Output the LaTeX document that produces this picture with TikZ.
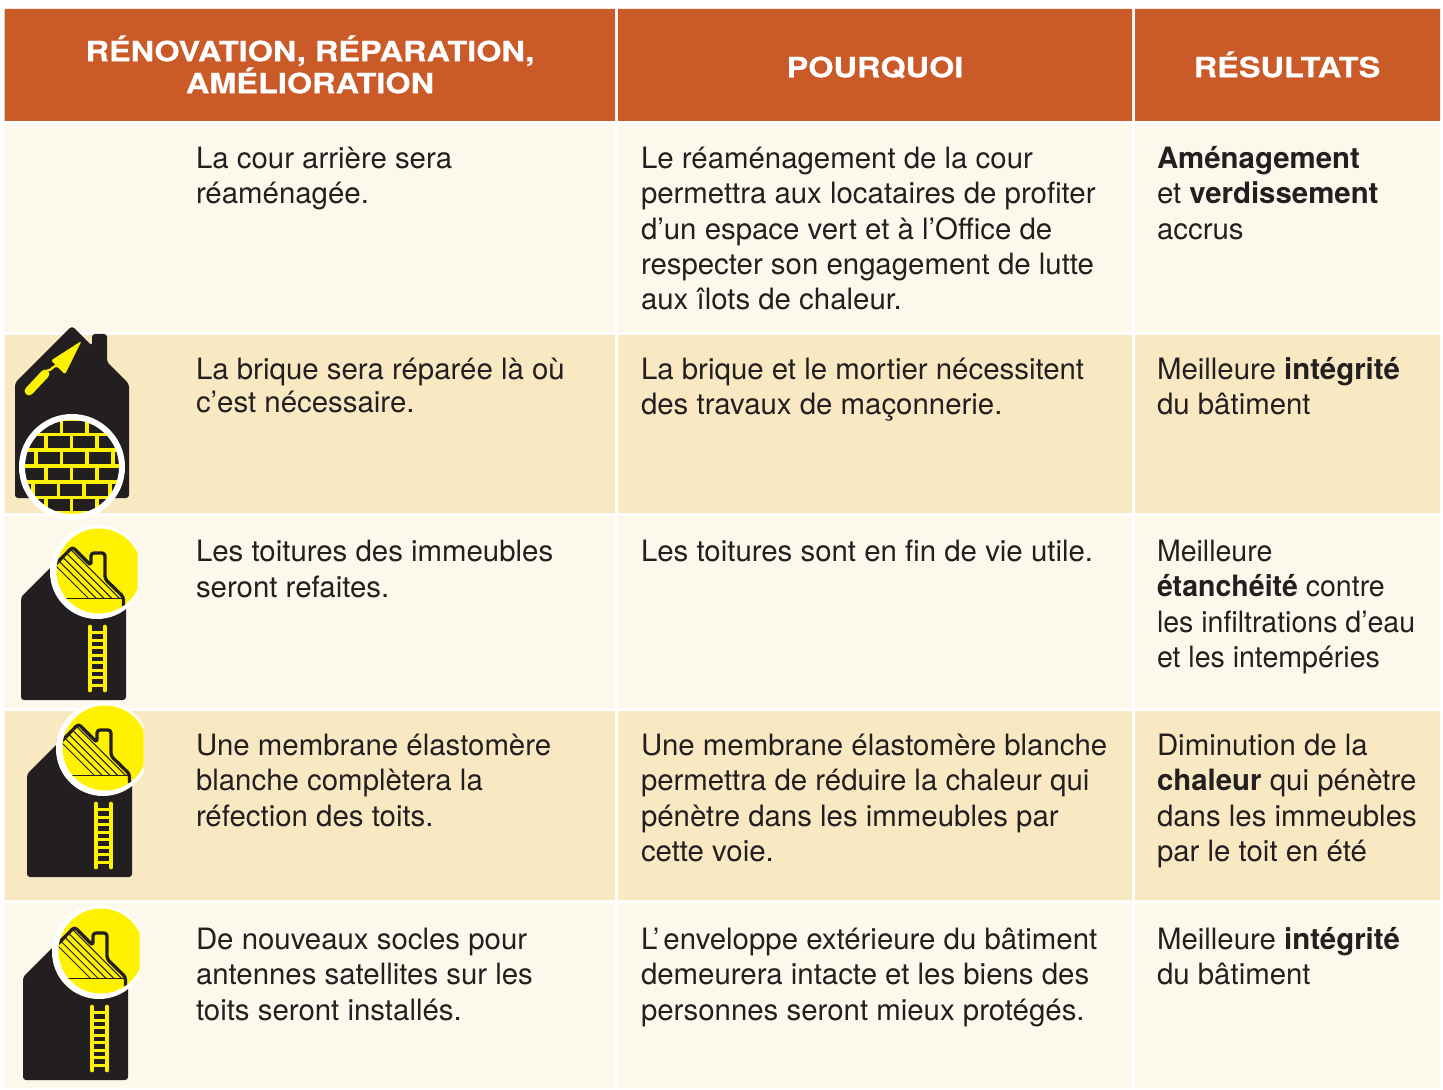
\documentclass[tikz,border=0pt]{standalone}
\usepackage{fontspec}
\setmainfont{TeX Gyre Heros}
\newfontfamily\headfont[FakeStretch=1.16,FakeBold=0.4]{TeX Gyre Heros Bold}
\newfontfamily\narrowfont[FakeStretch=0.97]{TeX Gyre Heros}
\definecolor{headbg}{HTML}{CB5A29}
\definecolor{lightbg}{HTML}{FCF8EB}
\definecolor{tanbg}{HTML}{F9E9C3}
\definecolor{ink}{HTML}{231F20}
\definecolor{yel}{HTML}{FFF200}
\newcommand{\roofladder}[3]{%
\begin{scope}[shift={(#1,#2)}]
 \fill[ink,rounded corners=1.5] (21,700) -- (21,597) -- (74,544) -- (126,597) -- (126,700) -- cycle;
 \begin{scope}
  \clip (40,515) rectangle (#3,625);
  \fill[white] (97,572) circle[radius=47];
  \fill[yel] (99,571) circle[radius=42.5];
  \begin{scope}
   \clip (99,571) circle[radius=42.5];
   \begin{scope}
    \clip (45,598) -- (123,598) -- (73,547) -- (45,575) -- cycle;
    \foreach \k in {0,...,14}{\draw[ink,line width=0.5pt] ({20+7.8*\k},530) -- ++(80,80);}
   \end{scope}
   \draw[ink,line width=0.5pt] (50,598) -- (123,598);
   \draw[ink,line width=1.65pt,line join=round,rounded corners=1.5] (45,575) -- (72.5,547) -- (91,565.5) -- (91,553) -- (105,553) -- (105,579) -- (123.5,597) -- (123.5,606);
  \end{scope}
 \end{scope}
 \draw[yel,line width=1.8pt,line cap=round] (90,626.5) -- (90,690.5) (105,626.5) -- (105,690.5);
 \foreach \k in {0,...,7}{\draw[yel,line width=1.5pt] (90,{632.5+7.5*\k}) -- (105,{632.5+7.5*\k});}
\end{scope}}
\tikzset{
 x=0.5pt,y=-0.5pt,
 cell/.style={anchor=north west,inner sep=0pt,outer sep=0pt,align=left,text=ink,
   font=\fontsize{14.7}{17.65}\selectfont,execute at begin node={\rule{0pt}{11pt}}},
 head/.style={anchor=center,inner sep=0pt,align=center,text=white,
   font=\headfont\fontsize{14}{16}\selectfont},
}
\begin{document}
\begin{tikzpicture}
\useasboundingbox (0,0) rectangle (1443,1090);
\fill[white] (0,0) rectangle (1443,1090);
% bands
\fill[headbg] (4.5,9) rectangle (615,121) (618,9) rectangle (1132,121) (1135,9) rectangle (1440,121);
\foreach \a/\b/\c in {124/332/lightbg,335/513/tanbg,516/708/lightbg,711/900/tanbg,903/1088/lightbg}{
 \fill[\c] (4.5,\a) rectangle (615,\b) (618,\a) rectangle (1132,\b) (1135,\a) rectangle (1440,\b);
}
% header
\node[head] (h1) at (310,64.5) {RÉNOVATION, RÉPARATION,\\AMÉLIORATION};
\node[head] (h2) at (875,67.5) {POURQUOI};
\node[head] (h3) at (1287,64.5) {RÉSULTATS};
% row 1
\node[cell] (a1) at (196,147) {La cour arrière sera\\réaménagée.};
\node[cell] (b1) at (641,147) {Le réaménagement de la cour\\permettra aux locataires de profiter\\d’un espace vert et à l’Office de\\respecter son engagement de lutte\\aux îlots de chaleur.};
\node[cell] (c1) at (1157,146.5) {\textbf{Aménagement}\\et \textbf{verdissement}\\accrus};
% row 2
\node[cell,font=\fontsize{14.7}{16.6}\selectfont] (a2) at (196,358) {La brique sera réparée là où\\c’est nécessaire.};
\node[cell] (b2) at (641,358) {La brique et le mortier nécessitent\\des travaux de maçonnerie.};
\node[cell] (c2) at (1157,357.5) {Meilleure \textbf{intégrité}\\du bâtiment};
% row 3
\node[cell] (a3) at (196,540.5) {Les toitures des immeubles\\seront refaites.};
\node[cell] (b3) at (641,539) {Les toitures sont en fin de vie utile.};
\node[cell,font=\narrowfont\fontsize{14.7}{17.65}\selectfont] (c3) at (1157,540) {Meilleure\\\textbf{étanchéité} contre\\les infiltrations d’eau\\et les intempéries};
% row 4
\node[cell] (a4) at (196,734) {Une membrane élastomère\\blanche complètera la\\réfection des toits.};
\node[cell] (b4) at (641,734) {Une membrane élastomère blanche\\permettra de réduire la chaleur qui\\pénètre dans les immeubles par\\cette voie.};
\node[cell] (c4) at (1157,734) {Diminution de la\\\textbf{chaleur} qui pénètre\\dans les immeubles\\par le toit en été};
% row 5
\node[cell] (a5) at (196,928) {De nouveaux socles pour\\antennes satellites sur les\\toits seront installés.};
\node[cell] (b5) at (641,928) {L’\kern2pt enveloppe extérieure du bâtiment\\demeurera intacte et les biens des\\personnes seront mieux protégés.};
\node[cell] (c5) at (1157,927.5) {Meilleure \textbf{intégrité}\\du bâtiment};
% brick house icon
\fill[ink,rounded corners=1.5] (15,498) -- (15,383) -- (72,326) -- (92,346) -- (92,334) -- (107,334) -- (107,362) -- (129,384) -- (129,498) -- cycle;
\fill[yel,rounded corners=0.8] (81.5,341) -- (51,360.5) -- (65,374.5) -- cycle;
\draw[yel,line width=1.1pt] (59,367) .. controls (53,363) and (53,371) .. (46,371);
\draw[yel,line width=4.4pt,line cap=round] (45,374) -- (29,391);
\begin{scope}
 \clip (72,467) circle[radius=48];
 \fill[yel] (72,467) circle[radius=48];
 \foreach \ry/\off in {420.5/10,435.5/20,452/10,467.5/20,483.5/7,498.5/20}{
  \foreach \k in {-1,...,4}{
   \pgfmathsetmacro{\bx}{\off+25.7*\k+2}
   \fill[ink] (\bx,\ry) rectangle ++(21.8,12);
  }
 }
\end{scope}
\draw[white,line width=3pt] (72,467) circle[radius=50];
% roof icons
\roofladder{0}{0}{137.5}
\roofladder{6}{177}{137.5}
\roofladder{2}{380}{137.5}
\end{tikzpicture}
\end{document}
